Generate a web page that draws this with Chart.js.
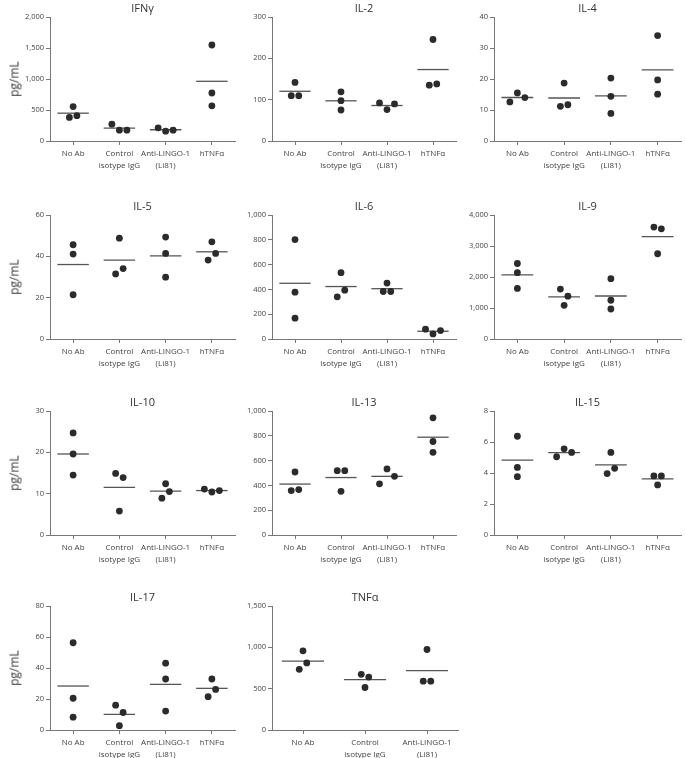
<!DOCTYPE html>
<html>
<head>
<meta charset="utf-8">
<script src="https://cdn.jsdelivr.net/npm/chart.js@4"></script>
<style>
  body { margin: 0; background: #fff; width: 685px; height: 758px; position: relative; overflow: hidden; font-family: 'Open Sans', sans-serif; }
  canvas { position: absolute; }
  .title { position: absolute; font-size: 11px; color: #333; transform: translate(-50%, -50%); white-space: nowrap; }
  .ylab { position: absolute; font-size: 12px; color: #3a3a3a; transform: translate(-50%, -50%) rotate(-90deg); white-space: nowrap; }
</style>
</head>
<body>
<script>
// groups on the x axis, as tick label lines
const categoryLabels = [['No Ab'], ['Control', 'isotype IgG'], ['Anti-LINGO-1', '(Li81)'], ['hTNFα']];
const panelTitles = ['IFNγ', 'IL-2', 'IL-4', 'IL-5', 'IL-6', 'IL-9', 'IL-10', 'IL-13', 'IL-15', 'IL-17', 'TNFα'];

// pg/mL, three replicates per group (No Ab, Control IgG, Anti-LINGO-1, hTNFα)
const ifng = [[556, 381, 409], [272, 174, 174], [212, 158, 174], [1548, 774, 567]];
const il2 = [[141.6, 109.6, 109.6], [119, 97.6, 75], [92, 76, 89.6], [245.6, 135, 138]];
const il4 = [[12.6, 15.5, 14.0], [18.7, 11.2, 11.7], [20.3, 14.4, 8.9], [34.0, 19.7, 15.1]];
const il5 = [[45.6, 41.1, 21.4], [48.8, 31.5, 34.1], [49.3, 41.4, 29.9], [47.0, 38.2, 41.4]];
const il6 = [[802, 378, 168], [535, 340, 394], [451, 383, 383], [79, 41, 68]];
const il9 = [[2435, 2141, 1630], [1609, 1380, 1087], [1946, 1250, 967], [3609, 3554, 2750]];
const il10 = [[24.7, 19.6, 14.5], [14.9, 13.9, 5.8], [12.4, 8.9, 10.5], [11.1, 10.4, 10.75]];
const il13 = [[508, 358, 366], [519, 519, 352], [413, 533, 473], [945, 754, 667]];
const il15 = [[6.37, 4.36, 3.76], [5.05, 5.56, 5.33], [5.33, 3.96, 4.30], [3.81, 3.81, 3.23]];
const il17 = [[56.3, 20.5, 8.3], [16.0, 11.3, 2.8], [43.1, 32.9, 12.2], [32.9, 21.5, 26.2]];
const tnfa = [[958, 734, 811], [673, 640, 514], [974, 591, 591]];

const panelValues = [ifng, il2, il4, il5, il6, il9, il10, il13, il15, il17, tnfa];
const axisMax = [2000, 300, 40, 60, 1000, 4000, 30, 1000, 8, 80, 1500];
const axisStep = [500, 100, 10, 20, 200, 1000, 10, 200, 2, 20, 500];

// layout
const COL_X = [50, 272, 494];
const COL_W = [185, 184, 187];
const ROW_TOP = [17, 215, 411, 606];
const PLOT_H = 124;
const Y_W = 40, X_H = 34, PAD_T = 8, PAD_R = 6;
const DOT_R = 3.4, DOT_STEP = 7.5, ROW_GAP = 7.6, MEAN_HALF = 0.34;
const FONT = "'Open Sans', sans-serif";
const AXIS_COLOR = '#777';

// points closer than ROW_GAP px vertically share a row and get spread sideways
function swarmOffsets(values, max, catW) {
  const pxPerUnit = PLOT_H / max;
  const idx = values.map((_, i) => i).sort((a, b) => values[b] - values[a]);
  const rows = [];
  let cur = [idx[0]];
  for (let k = 1; k < idx.length; k++) {
    const gap = (values[idx[k - 1]] - values[idx[k]]) * pxPerUnit;
    if (gap < ROW_GAP) cur.push(idx[k]);
    else { rows.push(cur); cur = [idx[k]]; }
  }
  rows.push(cur);
  const off = values.map(() => 0);
  rows.forEach((r) => {
    r.sort((a, b) => a - b);
    r.forEach((i, k) => { off[i] = (k - (r.length - 1) / 2) * DOT_STEP / catW; });
  });
  return off;
}

function addText(cls, text, x, y) {
  const el = document.createElement('div');
  el.className = cls;
  el.textContent = text;
  el.style.left = x + 'px';
  el.style.top = y + 'px';
  document.body.appendChild(el);
}

panelValues.forEach((groups, p) => {
  const col = p % 3, row = Math.floor(p / 3);
  const plotW = p === 10 ? 186 : COL_W[col];
  const left = COL_X[col], top = ROW_TOP[row];
  const catW = plotW / groups.length;
  const max = axisMax[p];

  const canvas = document.createElement('canvas');
  canvas.width = Y_W + plotW + PAD_R;
  canvas.height = PAD_T + PLOT_H + X_H;
  canvas.style.left = (left - Y_W) + 'px';
  canvas.style.top = (top - PAD_T) + 'px';
  document.body.appendChild(canvas);

  const dots = groups.flatMap((vals, i) => {
    const off = swarmOffsets(vals, max, catW);
    return vals.map((v, k) => ({ x: i + off[k], y: v }));
  });

  const means = groups.map((vals, i) => {
    const m = vals.reduce((a, b) => a + b, 0) / vals.length;
    return {
      type: 'line',
      data: [{ x: i - MEAN_HALF, y: m }, { x: i + MEAN_HALF, y: m }],
      borderColor: '#555',
      borderWidth: 1.3,
      pointRadius: 0,
      order: 1,
    };
  });

  new Chart(canvas, {
    type: 'scatter',
    data: {
      datasets: [
        { data: dots, backgroundColor: '#2b2b2b', borderWidth: 0, pointRadius: DOT_R, order: 0 },
        ...means,
      ],
    },
    options: {
      responsive: false,
      animation: false,
      events: [],
      layout: { padding: { top: PAD_T, right: PAD_R, left: 0, bottom: 0 } },
      plugins: { legend: { display: false }, tooltip: { enabled: false } },
      scales: {
        x: {
          type: 'linear',
          min: -0.5,
          max: groups.length - 0.5,
          afterBuildTicks: (s) => { s.ticks = groups.map((_, i) => ({ value: i })); },
          afterFit: (s) => { s.height = X_H; },
          ticks: {
            callback: (v) => categoryLabels[v],
            font: { family: FONT, size: 8, lineHeight: 1.45 },
            color: '#444',
            padding: 3,
            maxRotation: 0,
            autoSkip: false,
          },
          grid: { drawOnChartArea: false, tickLength: 4, color: AXIS_COLOR },
          border: { color: AXIS_COLOR },
        },
        y: {
          min: 0,
          max: max,
          afterFit: (s) => { s.width = Y_W; },
          ticks: {
            stepSize: axisStep[p],
            callback: (v) => v.toLocaleString('en-US'),
            font: { family: FONT, size: 7.5 },
            color: '#444',
            padding: 2,
          },
          grid: { drawOnChartArea: false, tickLength: 4, color: AXIS_COLOR },
          border: { color: AXIS_COLOR },
        },
      },
    },
  });

  addText('title', panelTitles[p], left + plotW / 2, top - 10);
  if (col === 0) addText('ylab', 'pg/mL', 14, top + PLOT_H / 2);
});
</script>
</body>
</html>
